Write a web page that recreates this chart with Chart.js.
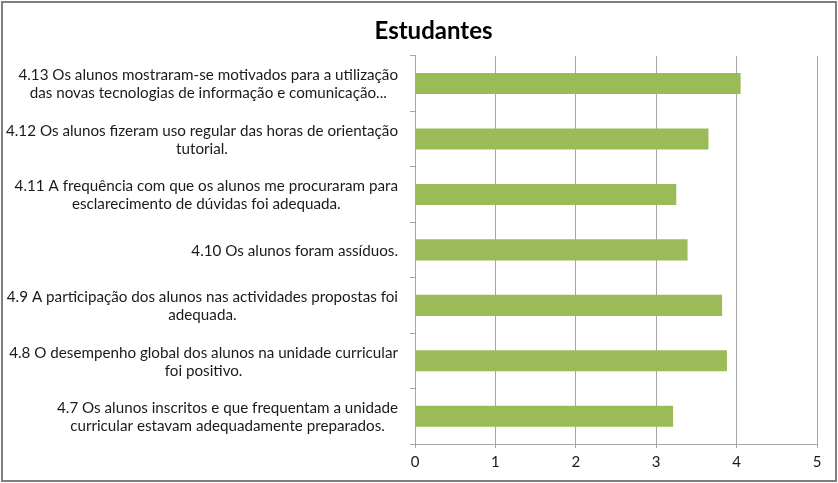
<!DOCTYPE html>
<html>
<head>
<meta charset="utf-8">
<script src="https://cdn.jsdelivr.net/npm/chart.js@4/dist/chart.umd.min.js"></script>
<style>
  html, body { margin: 0; padding: 0; background: #fff; }
</style>
</head>
<body>
<canvas id="chart-estudantes" width="838" height="483"></canvas>
<script>
/* Categorias (de cima para baixo) */
const labels = [
    ["4.13 Os alunos mostraram-se motivados para a utilização", "das novas tecnologias de informação e comunicação..."],
    ["4.12 Os alunos fizeram uso regular das horas de orientação", "tutorial."],
    ["4.11 A frequência com que os alunos me procuraram para", "esclarecimento de dúvidas foi adequada."],
    ["4.10 Os alunos foram assíduos."],
    ["4.9 A participação dos alunos nas actividades propostas foi", "adequada."],
    ["4.8 O desempenho global dos alunos na unidade curricular", "foi positivo."],
    ["4.7 Os alunos inscritos e que frequentam a unidade", "curricular estavam adequadamente preparados."],
];

/* Médias */
const values = [4.05, 3.65, 3.25, 3.39, 3.82, 3.88, 3.21];

/* Eixo x */
const xTicks = [0, 1, 2, 3, 4, 5];

const FONT = "Lato, 'Open Sans', sans-serif";

/* Desenha as etiquetas do eixo y: bloco alinhado à direita, linhas centradas */
const yLabelsPlugin = {
    id: "yLabels",
    afterDraw(chart) {
        const ctx = chart.ctx;
        const yScale = chart.scales.y;
        const right = chart.chartArea.left - 17;
        ctx.save();
        ctx.font = "15.2px " + FONT;
        ctx.fillStyle = "#1a1a1a";
        ctx.textAlign = "center";
        ctx.textBaseline = "middle";
        yScale.ticks.forEach((t, i) => {
            const lines = labels[i];
            const y = yScale.getPixelForTick(i);
            const maxW = Math.max(...lines.map(l => ctx.measureText(l).width));
            const cx = right - maxW / 2;
            lines.forEach((line, j) => {
                ctx.fillText(line, cx, y + (j - (lines.length - 1) / 2) * 18 + 1);
            });
        });
        ctx.restore();
    }
};

/* Moldura do gráfico */
const framePlugin = {
    id: "frame",
    afterDraw(chart) {
        const ctx = chart.ctx;
        ctx.save();
        ctx.strokeStyle = "#7f7f7f";
        ctx.lineWidth = 2;
        ctx.strokeRect(2, 2, chart.width - 4, chart.height - 4);
        ctx.restore();
    }
};

const ctx = document.getElementById("chart-estudantes").getContext("2d");
const chart = new Chart(ctx, {
    type: "bar",
    data: {
        labels: labels,
        datasets: [{
            label: "Estudantes",
            data: values,
            backgroundColor: "#9bbb59",
            barPercentage: 0.38,
            categoryPercentage: 1,
        }],
    },
    options: {
        indexAxis: "y",
        responsive: false,
        animation: false,
        devicePixelRatio: 1,
        layout: { padding: { left: 50, right: 21, top: 0, bottom: 0 } },
        plugins: {
            legend: { display: false },
            tooltip: { enabled: false },
            title: {
                display: true,
                text: "Estudantes",
                color: "#000",
                font: { family: FONT, size: 24, weight: "bold" },
                padding: { top: 17, bottom: 10 },
            },
        },
        scales: {
            x: {
                min: 0,
                max: 5,
                afterBuildTicks(scale) {
                    scale.ticks = xTicks.map(v => ({ value: v }));
                },
                afterFit(scale) { scale.height = 39; },
                grid: { color: "#a6a6a6", tickLength: 4, lineWidth: 1 },
                border: { color: "#a6a6a6" },
                ticks: { color: "#1a1a1a", padding: 5, font: { family: FONT, size: 15 } },
            },
            y: {
                afterFit(scale) { scale.width = 365; },
                grid: { drawOnChartArea: false, tickLength: 5, color: "#a6a6a6", offset: true },
                border: { color: "#a6a6a6" },
                ticks: { display: false },
            },
        },
    },
    plugins: [yLabelsPlugin, framePlugin],
});
</script>
</body>
</html>
